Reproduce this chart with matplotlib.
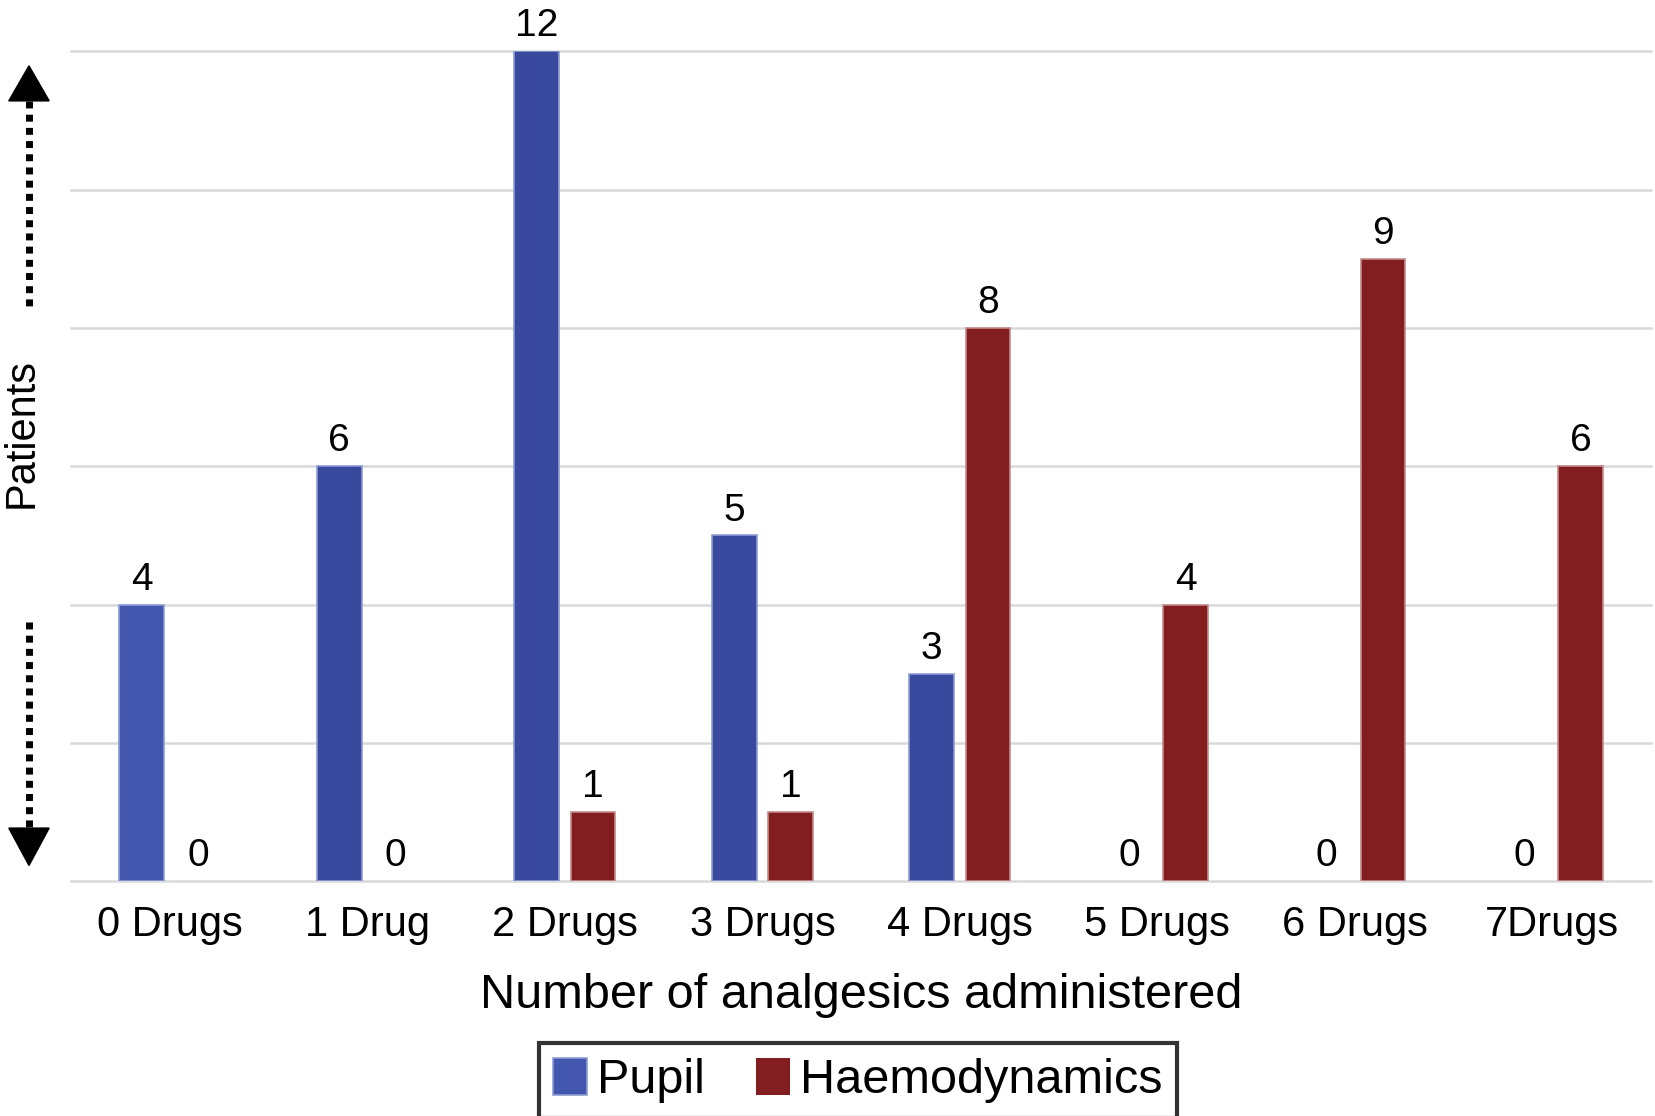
import numpy as np
import matplotlib
matplotlib.use('Agg')
import matplotlib.pyplot as plt
from matplotlib.lines import Line2D
from matplotlib.patches import Polygon

# dados do grafico
categorias = ['0 Drugs', '1 Drug', '2 Drugs', '3 Drugs', '4 Drugs', '5 Drugs', '6 Drugs', '7Drugs']
pupil = [4, 6, 12, 5, 3, 0, 0, 0]
haemo = [0, 0, 1, 1, 8, 4, 9, 6]

azul = '#394A9E'
vermelho = '#821E1F'

plt.rcParams['font.family'] = ['Liberation Sans', 'DejaVu Sans']

fig = plt.figure(figsize=(16.56, 11.16), dpi=100)
ax = fig.add_axes([0.043, 0.2103, 0.954, 0.7437])

x = np.arange(len(categorias))
larg = 0.226
desl = 0.1425

cores_azul = ['#4457AE'] + [azul] * (len(categorias) - 1)
b1 = ax.bar(x - desl, pupil, larg, color=cores_azul, edgecolor='#8C9CD6', linewidth=1.2, label='Pupil', zorder=3)
b2 = ax.bar(x + desl, haemo, larg, color=vermelho, edgecolor='#C58A8A', linewidth=1.2, label='Haemodynamics', zorder=3)

# barras com valor 0 nao desenham borda
for b in list(b1) + list(b2):
    if b.get_height() == 0:
        b.set_linewidth(0)

# numeros em cima das barras
ax.bar_label(b1, padding=5, fontsize=28, clip_on=False)
ax.bar_label(b2, padding=5, fontsize=28, clip_on=False)

ax.set_xlim(-0.5, len(categorias) - 0.5)
ax.set_ylim(0, 12)
ax.set_yticks(np.arange(0, 13, 2))
ax.set_yticklabels([])
ax.yaxis.grid(True, color='#D9D9D9', linewidth=1.8, zorder=0)
ax.set_axisbelow(True)
for g in ax.yaxis.get_gridlines():
    g.set_clip_on(False)

ax.set_xticks(x)
ax.set_xticklabels(categorias, fontsize=30)
ax.tick_params(axis='both', length=0)
ax.tick_params(axis='x', pad=17)
for s in ax.spines.values():
    s.set_visible(False)

ax.set_xlabel('Number of analgesics administered', fontsize=35, labelpad=20)

# rotulo do eixo y e as setas pontilhadas
fig.text(0.0128, 0.612, 'Patients', rotation=90, ha='center', va='center', fontsize=30)

xs = 0.0175
fig.add_artist(Line2D([xs, xs], [0.9096, 0.724], transform=fig.transFigure, color='black',
                      linewidth=5, linestyle=(0, (1, 0.9)), dash_capstyle='butt'))
fig.add_artist(Line2D([xs, xs], [0.443, 0.258], transform=fig.transFigure, color='black',
                      linewidth=5, linestyle=(0, (1, 0.9)), dash_capstyle='butt'))
mw = 0.0122
fig.add_artist(Polygon([[xs - mw, 0.9096], [xs + mw, 0.9096], [xs, 0.941]], closed=True,
                       transform=fig.transFigure, color='black'))
fig.add_artist(Polygon([[xs - mw, 0.258], [xs + mw, 0.258], [xs, 0.2245]], closed=True,
                       transform=fig.transFigure, color='black'))

leg = ax.legend(loc='center', bbox_to_anchor=(0.518, 0.032), bbox_transform=fig.transFigure,
                ncol=2, fontsize=35, frameon=True, fancybox=False, edgecolor='black',
                handlelength=0.7, handleheight=0.8, handletextpad=0.2, columnspacing=1.05,
                borderpad=0.3, borderaxespad=0)
leg.get_frame().set_linewidth(3)

fig.savefig('out.png', dpi=100)
